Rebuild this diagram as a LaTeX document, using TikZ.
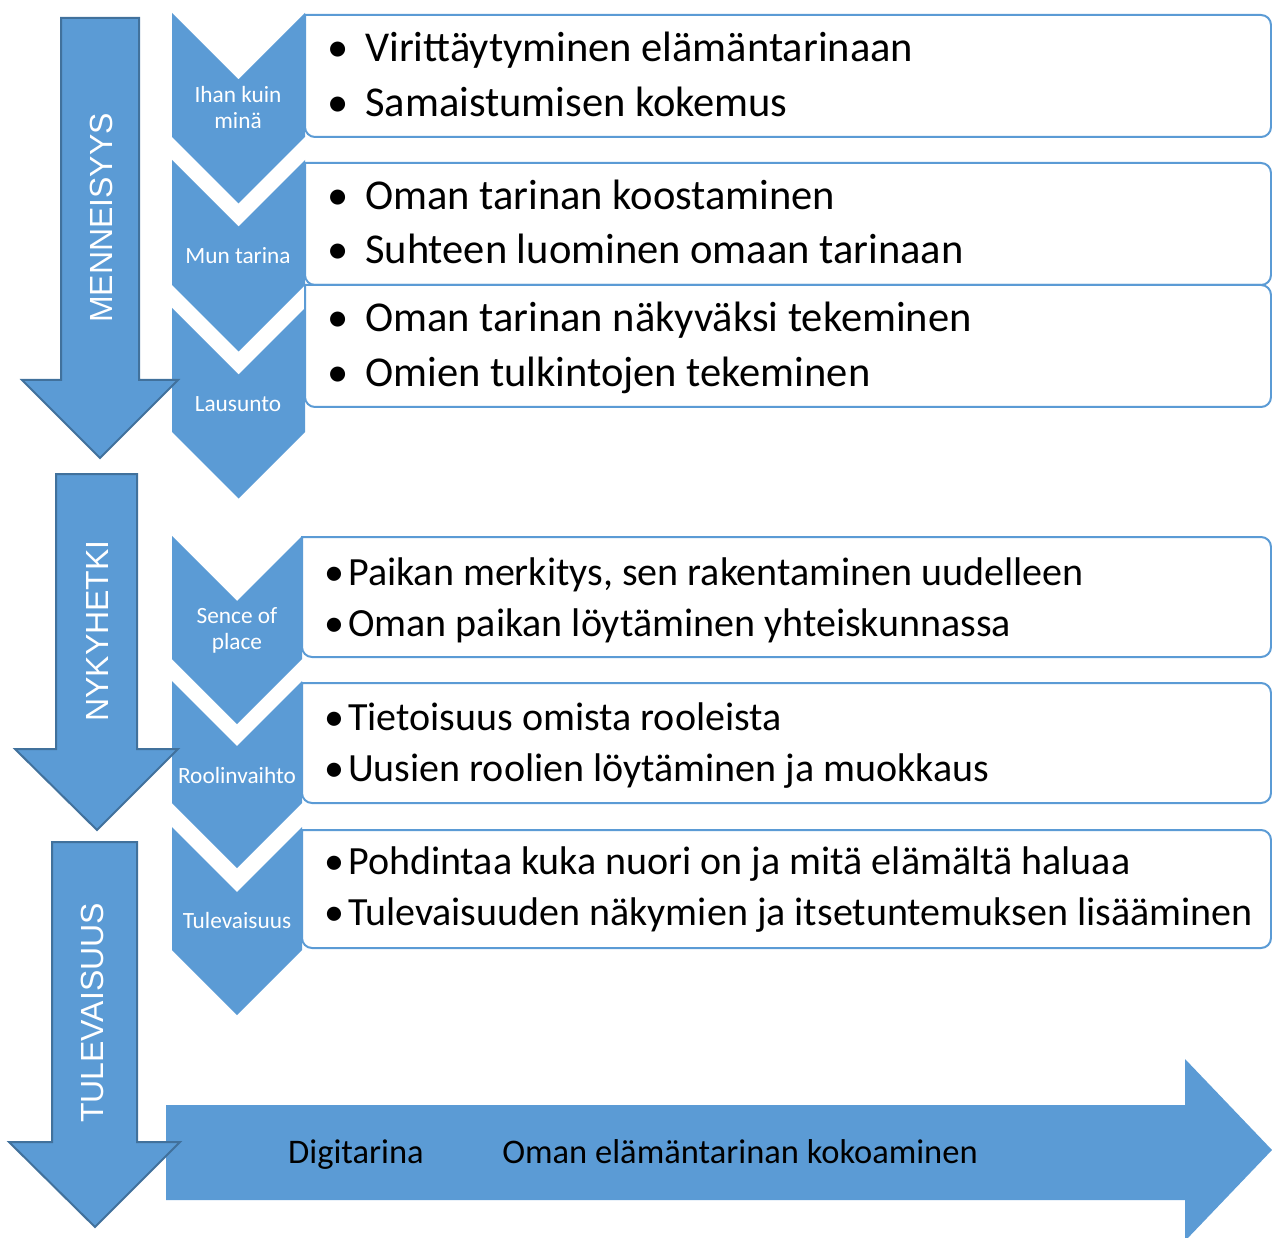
\documentclass[tikz,border=0pt]{standalone}
\usepackage{fontspec}
\setmainfont{Carlito}
\newfontfamily\arialfont{Liberation Sans}
\definecolor{chevblue}{HTML}{5B9BD5}
\definecolor{arrowedge}{HTML}{41719C}

\begin{document}
\begin{tikzpicture}[x=1pt,y=-1pt,
  chev/.style={fill=chevblue},
  listbox/.style={draw=chevblue,line width=2pt,fill=white},
  bigarrow/.style={fill=chevblue,draw=arrowedge,line width=2pt,line join=miter},
  chevlabel/.style={text=white,font=\fontsize{23.3}{26}\selectfont,align=center,inner sep=0pt},
  bigitem/.style={anchor=base west,inner sep=0pt,font=\fontsize{42.5}{50}\selectfont},
  smallitem/.style={anchor=base west,inner sep=0pt,font=\fontsize{40}{48}\selectfont},
  phase/.style={rotate=90,text=white,inner sep=0pt,font=\arialfont\fontsize{32}{38}\selectfont},
  digi/.style={anchor=base,inner sep=0pt,font=\fontsize{34.5}{40}\selectfont},
]
\useasboundingbox (0,0) rectangle (1272,1238);

% list boxes, rounded on the right only
\foreach \xl/\t/\b in {305/15/137, 305/163/285, 305/285/407, 302/537/657, 302/683/803, 302/830/948}
  \draw[listbox] (\xl,\t) [rounded corners=10pt] -- (1271,\t) -- (1271,\b) -- (\xl,\b) [sharp corners] -- cycle;

% chevrons
\foreach \xl/\xr/\t/\b in {172/305/13/137, 172/305/160/285, 172/305/308/432, 172/302/536/659, 172/302/681/803, 172/302/827/950}
  \fill[chev] (\xl,\t) -- ({(\xl+\xr)/2},{\t+(\xr-\xl)/2}) -- (\xr,\t) -- (\xr,\b)
    -- ({(\xl+\xr)/2},{\b+(\xr-\xl)/2}) -- (\xl,\b) -- cycle;

\node[chevlabel] (ihan) at (238,108) {Ihan kuin\\minä};
\node[chevlabel] (mun) at (238,256) {Mun tarina};
\node[chevlabel] (lausunto) at (238,404) {Lausunto};
\node[chevlabel] (sence) at (237,630) {Sence of\\place};
\node[chevlabel] (rooli) at (237,775) {Roolinvaihto};
\node[chevlabel] (tuleva) at (237,920) {Tulevaisuus};

\node[bigitem] (it1a) at (327,62) {\makebox[38pt][l]{\textbullet}Virittäytyminen elämäntarinaan};
\node[bigitem] (it1b) at (327,117) {\makebox[38pt][l]{\textbullet}Samaistumisen kokemus};
\node[bigitem] (it2a) at (327,210) {\makebox[38pt][l]{\textbullet}Oman tarinan koostaminen};
\node[bigitem] (it2b) at (327,264) {\makebox[38pt][l]{\textbullet}Suhteen luominen omaan tarinaan};
\node[bigitem] (it3a) at (327,332) {\makebox[38pt][l]{\textbullet}Oman tarinan näkyväksi tekeminen};
\node[bigitem] (it3b) at (327,387) {\makebox[38pt][l]{\textbullet}Omien tulkintojen tekeminen};

\node[smallitem] (it4a) at (324,585) {\makebox[24pt][l]{\textbullet}Paikan merkitys, sen rakentaminen uudelleen};
\node[smallitem] (it4b) at (324,636) {\makebox[24pt][l]{\textbullet}Oman paikan löytäminen yhteiskunnassa};
\node[smallitem] (it5a) at (324,730) {\makebox[24pt][l]{\textbullet}Tietoisuus omista rooleista};
\node[smallitem] (it5b) at (324,781) {\makebox[24pt][l]{\textbullet}Uusien roolien löytäminen ja muokkaus};
\node[smallitem] (it6a) at (324,874) {\makebox[24pt][l]{\textbullet}Pohdintaa kuka nuori on ja mitä elämältä haluaa};
\node[smallitem] (it6b) at (324,925) {\makebox[24pt][l]{\textbullet}Tulevaisuuden näkymien ja itsetuntemuksen lisääminen};

% bottom arrow
\fill[chev] (166,1105) -- (1185,1105) -- (1185,1059) -- (1272,1150) -- (1185,1241)
  -- (1185,1200) -- (166,1200) -- cycle;
\node[digi] (digitarina) at (356,1163) {Digitarina};
\node[digi] (kokoaminen) at (740,1163) {Oman elämäntarinan kokoaminen};

% phase arrows
\draw[bigarrow] (61,18) -- (139,18) -- (139,380) -- (178,380) -- (100,458) -- (22,380) -- (61,380) -- cycle;
\draw[bigarrow] (56,474) -- (137,474) -- (137,749) -- (178,749) -- (97,830) -- (15,749) -- (56,749) -- cycle;
\draw[bigarrow] (52,842) -- (137,842) -- (137,1142) -- (180,1142) -- (95,1227) -- (9,1142) -- (52,1142) -- cycle;

\node[phase] (menneisyys) at (101,218) {MENNEISYYS};
\node[phase] (nykyhetki) at (97,631) {NYKYHETKI};
\node[phase] (tulevaisuus) at (92,1013) {TULEVAISUUS};

\end{tikzpicture}
\end{document}
